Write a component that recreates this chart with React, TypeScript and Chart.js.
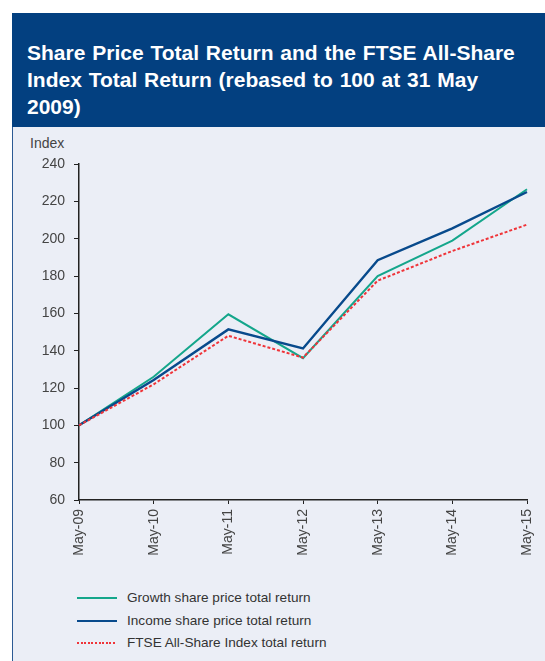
import React, { useEffect, useRef } from "react";
import { Chart, registerables } from "chart.js";

Chart.register(...registerables);

const categories = ["May-09", "May-10", "May-11", "May-12", "May-13", "May-14", "May-15"];
const growthValues = [100, 126, 159.5, 136, 180, 199, 226.5];
const incomeValues = [100, 124.3, 151.4, 141.2, 188.5, 205.5, 225];
const ftseValues = [100, 122, 148, 136.3, 177.5, 193.4, 207.5];
const yTicks = [60, 80, 100, 120, 140, 160, 180, 200, 220, 240];

const seriesNames = [
  "Growth share price total return",
  "Income share price total return",
  "FTSE All-Share Index total return",
];
const titleLines = [
  "Share Price Total Return and the FTSE All-Share",
  "Index Total Return (rebased to 100 at 31 May",
  "2009)",
];

const TEAL = "#14a68b";
const NAVY = "#084a8c";
const RED = "#ef3439";
const FONT = "'Liberation Sans', Arial, Helvetica, sans-serif";

export default function App() {
  const canvasRef = useRef<HTMLCanvasElement | null>(null);

  useEffect(() => {
    const ctx = canvasRef.current;
    if (!ctx) return;
    const chart = new Chart(ctx, {
      type: "line",
      data: {
        labels: categories,
        datasets: [
          {
            label: seriesNames[0],
            data: growthValues,
            borderColor: TEAL,
            borderWidth: 2,
            pointRadius: 0,
            tension: 0,
            order: 2,
          },
          {
            label: seriesNames[1],
            data: incomeValues,
            borderColor: NAVY,
            borderWidth: 2.4,
            pointRadius: 0,
            tension: 0,
            order: 1,
          },
          {
            label: seriesNames[2],
            data: ftseValues,
            borderColor: RED,
            borderWidth: 2,
            borderDash: [3, 2],
            pointRadius: 0,
            tension: 0,
            order: 0,
          },
        ],
      },
      options: {
        animation: false,
        responsive: false,
        maintainAspectRatio: false,
        layout: { padding: { top: 37, left: 0, right: 18, bottom: 0 } },
        plugins: {
          legend: { display: false },
          tooltip: { enabled: false },
          title: { display: false },
        },
        scales: {
          x: {
            type: "category",
            offset: false,
            grid: {
              display: true,
              drawOnChartArea: false,
              drawTicks: true,
              tickLength: 4,
              color: "#222",
              lineWidth: 1,
            },
            border: { display: true, color: "#222", width: 1.5 },
            ticks: {
              autoSkip: false,
              maxRotation: 90,
              minRotation: 90,
              padding: 5,
              color: "#444",
              font: { family: FONT, size: 14 },
            },
            afterFit: (scale: any) => {
              scale.height = 60;
              scale.paddingRight = 0;
              scale.paddingLeft = 0;
            },
          },
          y: {
            type: "linear",
            min: yTicks[0],
            max: yTicks[yTicks.length - 1],
            afterBuildTicks: (scale: any) => {
              scale.ticks = yTicks.map((v) => ({ value: v }));
            },
            grid: {
              display: true,
              drawOnChartArea: false,
              drawTicks: true,
              tickLength: 5,
              color: "#222",
              lineWidth: 1,
            },
            border: { display: true, color: "#222", width: 1.5 },
            ticks: {
              padding: 9,
              color: "#444",
              font: { family: FONT, size: 14 },
            },
            afterFit: (scale: any) => {
              scale.width = 66;
            },
          },
        },
      },
    });
    return () => chart.destroy();
  }, []);

  const legendColors = [TEAL, NAVY, RED];

  return (
    <div
      style={{
        position: "absolute",
        left: 0,
        top: 0,
        width: 545,
        height: 661,
        overflow: "hidden",
        background: "#ffffff",
        fontFamily: FONT,
      }}
    >
      <div
        style={{
          position: "absolute",
          left: 12,
          top: 13,
          width: 533,
          height: 114,
          background: "#034080",
        }}
      />
      <div
        style={{
          position: "absolute",
          left: 27,
          top: 39,
          color: "#ffffff",
          fontWeight: "bold",
          fontSize: 21,
          lineHeight: "27px",
          whiteSpace: "nowrap",
          wordSpacing: 1,
          fontFamily: FONT,
        }}
      >
        {titleLines.map((t, i) => (
          <div key={i}>{t}</div>
        ))}
      </div>
      <div
        style={{
          position: "absolute",
          left: 12,
          top: 127,
          width: 533,
          height: 534,
          background: "#ebeef6",
          borderLeft: "1px solid #2c5a94",
          boxSizing: "border-box",
        }}
      />
      <div
        style={{
          position: "absolute",
          left: 30,
          top: 134,
          fontSize: 14,
          lineHeight: "18px",
          color: "#444",
        }}
      >
        Index
      </div>
      <canvas
        ref={canvasRef}
        width={532}
        height={433}
        style={{ position: "absolute", left: 13, top: 127, width: 532, height: 433 }}
      />
      {seriesNames.map((name, i) => (
        <div
          key={name}
          style={{
            position: "absolute",
            left: 77,
            top: 589 + i * 22.5,
            height: 18,
            display: "flex",
            alignItems: "center",
          }}
        >
          <div
            style={{
              width: 40,
              height: 2,
              background:
                i === 2
                  ? `repeating-linear-gradient(to right, ${RED} 0px, ${RED} 2px, transparent 2px, transparent 3.6px)`
                  : legendColors[i],
            }}
          />
          <div
            style={{
              marginLeft: 10,
              fontSize: 13.6,
              lineHeight: "18px",
              color: "#333",
            }}
          >
            {name}
          </div>
        </div>
      ))}
    </div>
  );
}
